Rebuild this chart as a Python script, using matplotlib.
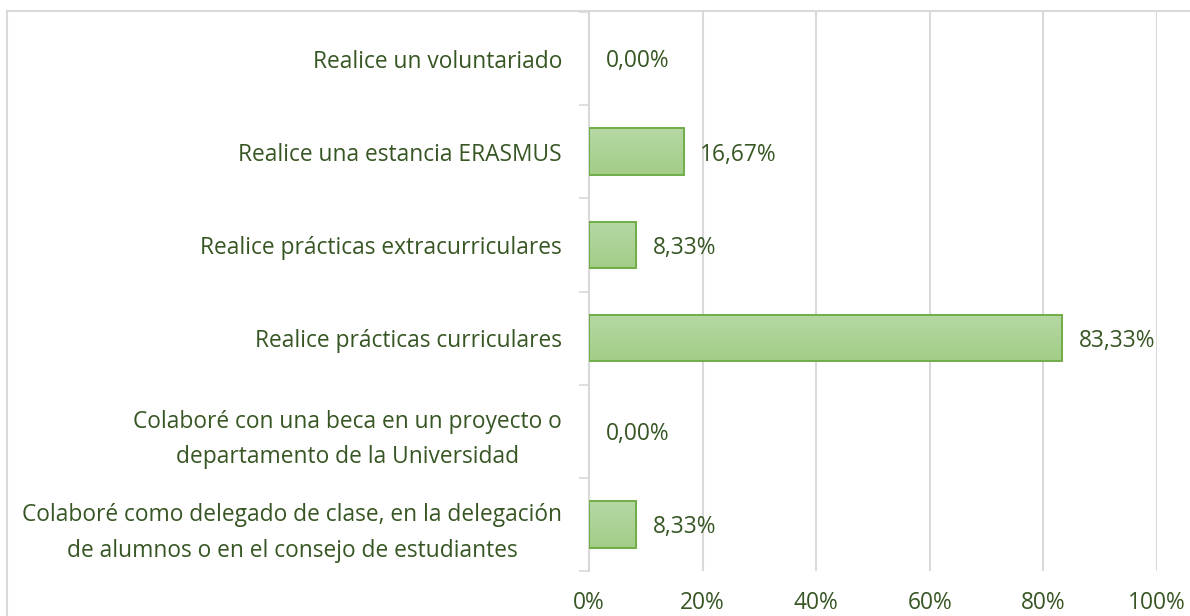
import numpy as np
import matplotlib.pyplot as plt
from matplotlib.colors import LinearSegmentedColormap
from matplotlib.patches import Rectangle
from matplotlib.ticker import FixedLocator, PercentFormatter

plt.rcParams['font.family'] = ['Open Sans', 'DejaVu Sans']

categories = [
    'Realice un voluntariado',
    'Realice una estancia ERASMUS',
    'Realice prácticas extracurriculares',
    'Realice prácticas curriculares',
    'Colaboré con una beca en un proyecto o\ndepartamento de la Universidad',
    'Colaboré como delegado de clase, en la delegación\nde alumnos o en el consejo de estudiantes',
]
values = [0.0, 16.67, 8.33, 83.33, 0.0, 8.33]
value_labels = ['0,00%', '16,67%', '8,33%', '83,33%', '0,00%', '8,33%']
x_ticks = [0, 20, 40, 60, 80, 100]

text_color = '#375623'
grid_color = '#d9d9d9'
fs = 16.4

fig = plt.figure(figsize=(11.9, 6.16), dpi=100)
ax = fig.add_axes([589 / 1190, 1 - 571 / 616, (1157 - 589) / 1190, (571 - 12) / 616])

y = np.arange(len(categories))
bars = ax.barh(y, values, height=0.5, color='#aad18f', edgecolor='none', zorder=3)

# light vertical gradient inside each bar, green outline on top
cmap = LinearSegmentedColormap.from_list('g', ['#b6d8a5', '#a2cd86'])
grad = np.linspace(0, 1, 64).reshape(-1, 1)
for b in bars:
    if b.get_width() <= 0:
        continue
    x0, y0 = b.get_x(), b.get_y()
    w, h = b.get_width(), b.get_height()
    im = ax.imshow(grad, cmap=cmap, extent=[x0, x0 + w, y0 + h, y0],
                   aspect='auto', zorder=3.5, interpolation='bicubic')
    im.set_clip_path(b)
    ax.add_patch(Rectangle((x0, y0), w, h, fill=False, edgecolor='#70ad47',
                           linewidth=1.4, zorder=4))

for yi, v, lab in zip(y, values, value_labels):
    ax.annotate(lab, (v, yi), xytext=(12, -2), textcoords='offset points',
                ha='left', va='center', fontsize=fs, color=text_color, zorder=5)

ax.set_xlim(0, 100)
ax.set_ylim(len(categories) - 0.5, -0.5)
ax.set_xticks(x_ticks)
ax.xaxis.set_major_formatter(PercentFormatter(decimals=0))
ax.set_yticks(y)
ax.set_yticklabels(categories, multialignment='center', linespacing=1.62)
ax.yaxis.set_minor_locator(FixedLocator(np.arange(-0.5, len(categories), 1.0)))

ax.tick_params(axis='x', length=0, pad=14.5, labelsize=fs, labelcolor=text_color)
ax.tick_params(axis='y', which='major', length=0, pad=19.5, labelsize=fs,
               labelcolor=text_color)
ax.tick_params(axis='y', which='minor', length=7, width=1.2, color=grid_color)

ax.grid(axis='x', color=grid_color, linewidth=1.5, zorder=0)
ax.set_axisbelow(True)
for s in ['top', 'right', 'bottom']:
    ax.spines[s].set_visible(False)
ax.spines['left'].set_color(grid_color)
ax.spines['left'].set_linewidth(1.5)

# chart area border
fig.patches.append(Rectangle((7 / 1190, -0.1), 1.2, 1.1 - 11 / 616,
                             transform=fig.transFigure, fill=False,
                             edgecolor=grid_color, linewidth=1.5))

fig.savefig('out.png', dpi=100)
